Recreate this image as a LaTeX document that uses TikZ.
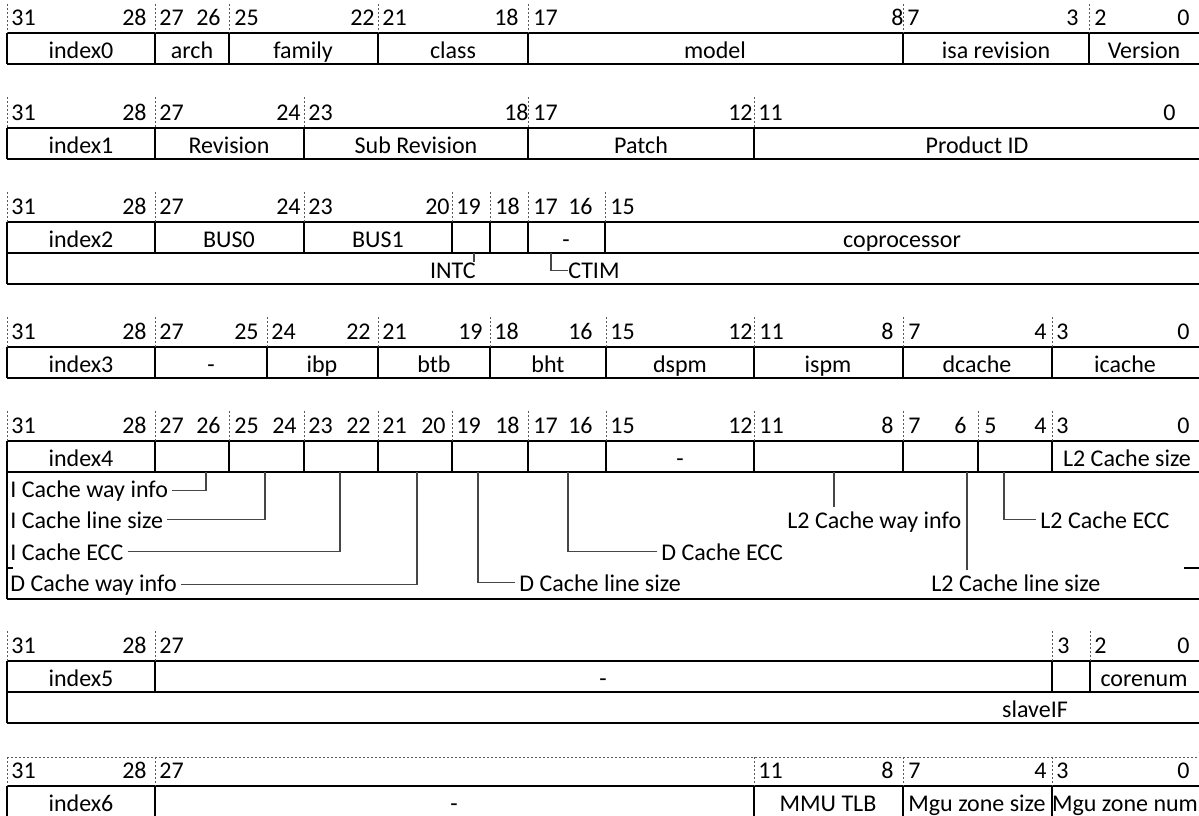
\documentclass[tikz,border=0pt]{standalone}
\usepackage{fontspec}
\setmainfont{Carlito}

\begin{document}
\begin{tikzpicture}[x=0.5pt,y=-0.5pt,every node/.style={font=\fontsize{12}{14}\selectfont},cellrule/.style={line width=1pt},divider/.style={line width=0.9pt},bittick/.style={gray!70!black,line width=0.5pt,dash pattern=on 1.2pt off 0.8pt},leader/.style={gray!55!black,line width=0.6pt},bitnum/.style={inner sep=0pt},fieldtxt/.style={inner sep=0pt,anchor=base},note/.style={inner xsep=2pt,inner ysep=0pt,anchor=base west}]
\useasboundingbox (0,0) rectangle (1199,815);
\draw[cellrule] (7,33) -- (1202,33) (7,64) -- (1202,64);
\foreach \x in {7,155,229,378,528,903,1089} {\draw[bittick] (\x,4) -- (\x,33); \draw[divider] (\x,33) -- (\x,64);}
\foreach \x/\a/\t [count=\i] in {11/west/31,147/east/28,159/west/27,221/east/26,234/west/25,375/east/22,382/west/21,519/east/18,533/west/17,904/east/8,907/west/7,1079/east/3,1094/west/2,1190/east/0} \node[bitnum,anchor=base \a] (r0n\i) at (\x,25) {\t};
\foreach \x/\t [count=\i] in {81/index0,192/arch,303/family,453/class,715/model,996/isa revision,1144/Version} \node[fieldtxt] (r0f\i) at (\x,58) {\t};

\draw[cellrule] (7,128) -- (1202,128) (7,159) -- (1202,159);
\foreach \x in {7,155,304,528,754} {\draw[bittick] (\x,97) -- (\x,128); \draw[divider] (\x,128) -- (\x,159);}
\foreach \x/\a/\t [count=\i] in {11/west/31,147/east/28,159/west/27,301/east/24,308/west/23,529/east/18,533/west/17,753/east/12,758/west/11,1176/east/0} \node[bitnum,anchor=base \a] (r1n\i) at (\x,120) {\t};
\foreach \x/\t [count=\i] in {81/index1,229/Revision,416/Sub Revision,641/Patch,977/Product ID} \node[fieldtxt] (r1f\i) at (\x,153) {\t};

\draw[cellrule] (7,222) -- (1202,222) (7,253) -- (1202,253) (7,284) -- (1202,284);
\draw[divider] (7,253) -- (7,284);
\foreach \x in {7,155,304,452,490,528,605} {\draw[bittick] (\x,192) -- (\x,222); \draw[divider] (\x,222) -- (\x,253);}
\foreach \x/\a/\t [count=\i] in {11/west/31,147/east/28,159/west/27,301/east/24,308/west/23,450/east/20,456/west/19,495/west/18,533/west/17,593/east/16,610/west/15} \node[bitnum,anchor=base \a] (r2n\i) at (\x,214) {\t};
\foreach \x/\t [count=\i] in {81/index2,229/BUS0,378/BUS1,566/-,902/coprocessor} \node[fieldtxt] (r2f\i) at (\x,247) {\t};
\node[bitnum,anchor=base east] (intc) at (476,278) {INTC};
\node[bitnum,anchor=base west] (ctim) at (568,278) {CTIM};
\coordinate (b19) at (474,253); \coordinate (b17) at (551,253);
\draw[leader] (b19) -- (b19 |- intc.north); \draw[leader] (b17) |- (ctim.west);

\draw[cellrule] (7,347) -- (1202,347) (7,378) -- (1202,378);
\foreach \x in {7,155,267,378,490,606,754,903,1052} {\draw[bittick] (\x,317) -- (\x,347); \draw[divider] (\x,347) -- (\x,378);}
\foreach \x/\a/\t [count=\i] in {11/west/31,147/east/28,159/west/27,259/east/25,271/west/24,371/east/22,382/west/21,483/east/19,494/west/18,593/east/16,610/west/15,753/east/12,759/west/11,894/east/8,908/west/7,1047/east/4,1056/west/3,1190/east/0} \node[bitnum,anchor=base \a] (r3n\i) at (\x,339) {\t};
\foreach \x/\t [count=\i] in {81/index3,211/-,322/ibp,434/btb,548/bht,680/dspm,828/ispm,977/dcache,1125/icache} \node[fieldtxt] (r3f\i) at (\x,372) {\t};

\draw[cellrule] (7,441) -- (1202,441) (7,472) -- (1202,472) (7,599) -- (1202,599);
\draw[divider] (7,472) -- (7,599);
\foreach \x in {7,155,229,304,378,452,528,606,754,903,978,1052} {\draw[bittick] (\x,411) -- (\x,441); \draw[divider] (\x,441) -- (\x,472);}
\foreach \x/\a/\t [count=\i] in {11/west/31,147/east/28,159/west/27,221/east/26,234/west/25,297/east/24,308/west/23,371/east/22,382/west/21,446/east/20,456/west/19,520/east/18,533/west/17,593/east/16,610/west/15,753/east/12,759/west/11,894/east/8,908/west/7,967/east/6,984/west/5,1047/east/4,1056/west/3,1190/east/0} \node[bitnum,anchor=base \a] (r4n\i) at (\x,433) {\t};
\foreach \x/\t [count=\i] in {81/index4,680/-,1127/L2 Cache size} \node[fieldtxt] (r4f\i) at (\x,466) {\t};
\node[note] (icway) at (6,497) {I Cache way info};
\node[note] (icline) at (6,528) {I Cache line size};
\node[note] (icecc) at (6,560) {I Cache ECC};
\node[note] (dcway) at (6,591) {D Cache way info};
\node[note] (dcline) at (515,591) {D Cache line size};
\node[note] (dcecc) at (657,560) {D Cache ECC};
\node[note] (l2way) at (783,528) {L2 Cache way info};
\node[note] (l2line) at (927,591) {L2 Cache line size};
\node[note] (l2ecc) at (1036,528) {L2 Cache ECC};
\coordinate (c26) at (206,472); \coordinate (c24) at (265,472); \coordinate (c22) at (340,472); \coordinate (c20) at (417,472);
\coordinate (c19) at (478,472); \coordinate (c16) at (568,472); \coordinate (c9) at (834,472); \coordinate (c6) at (967,472); \coordinate (c5) at (1004,472);
\draw[leader] (icway.east) -| (c26); \draw[leader] (icline.east) -| (c24); \draw[leader] (icecc.east) -| (c22); \draw[leader] (dcway.east) -| (c20);
\draw[leader] (dcline.west) -| (c19); \draw[leader] (dcecc.west) -| (c16); \draw[leader] (l2ecc.west) -| (c5);
\draw[leader,shorten >=2pt] (c9) -- (c9 |- l2way.north); \draw[leader,shorten >=2pt] (c6) -- (c6 |- l2line.north);
\draw[cellrule] (7,568) -- (13,568) (1184,568) -- (1202,568);

\draw[cellrule] (7,661) -- (1202,661) (7,692) -- (1202,692) (7,723) -- (1202,723);
\draw[divider] (7,692) -- (7,723);
\foreach \x in {7,155,1052,1090} {\draw[bittick] (\x,631) -- (\x,661); \draw[divider] (\x,661) -- (\x,692);}
\foreach \x/\a/\t [count=\i] in {11/west/31,147/east/28,159/west/27,1057/west/3,1094/west/2,1190/east/0} \node[bitnum,anchor=base \a] (r5n\i) at (\x,653) {\t};
\foreach \x/\t [count=\i] in {81/index5,603/-,1144/corenum} \node[fieldtxt] (r5f\i) at (\x,686) {\t};
\node[fieldtxt] (slave) at (1035,717) {slaveIF};

\draw[bittick] (7,757) -- (1202,757);
\draw[cellrule] (7,786) -- (1202,786) (7,817) -- (1202,817);
\foreach \x in {7,155,754,903,1052} {\draw[bittick] (\x,757) -- (\x,786); \draw[divider] (\x,786) -- (\x,817);}
\foreach \x/\a/\t [count=\i] in {11/west/31,147/east/28,159/west/27,758/west/11,894/east/8,908/west/7,1047/east/4,1056/west/3,1190/east/0} \node[bitnum,anchor=base \a] (r6n\i) at (\x,778) {\t};
\foreach \x/\t [count=\i] in {81/index6,454/-,828/MMU TLB,977/Mgu zone size,1125/Mgu zone num} \node[fieldtxt] (r6f\i) at (\x,811) {\t};
\end{tikzpicture}
\end{document}
